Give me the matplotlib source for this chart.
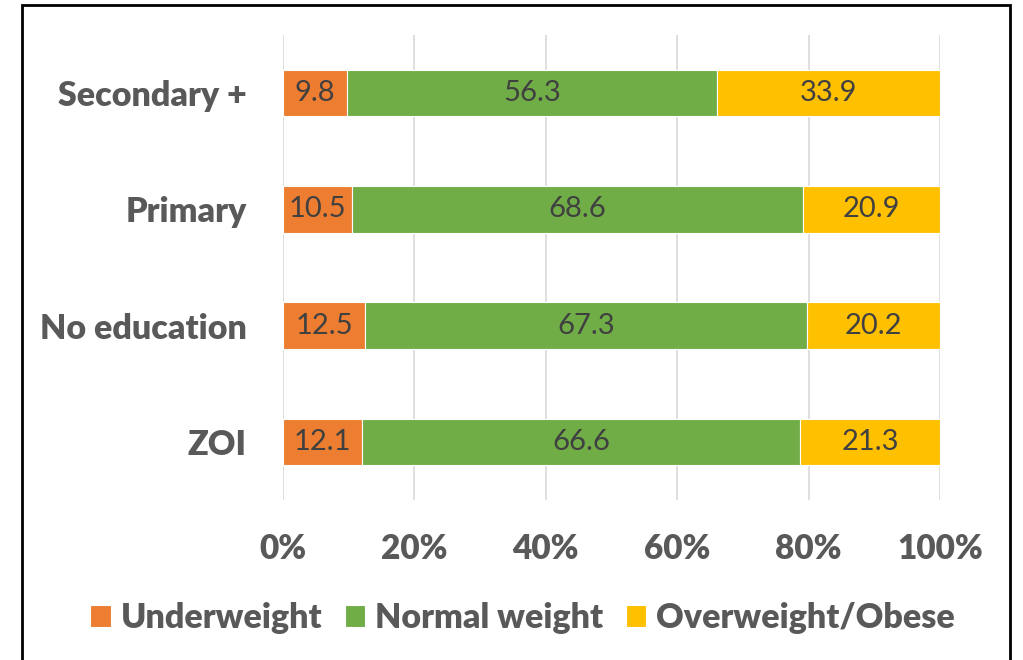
import numpy as np
import matplotlib.pyplot as plt
from matplotlib.patches import Rectangle
from matplotlib.ticker import PercentFormatter

# education groups, bottom to top
groups = ['ZOI', 'No education', 'Primary', 'Secondary +']
underweight = [12.1, 12.5, 10.5, 9.8]
normal = [66.6, 67.3, 68.6, 56.3]
overweight = [21.3, 20.2, 20.9, 33.9]
series_names = ['Underweight', 'Normal weight', 'Overweight/Obese']
colors = ['#ED7D31', '#70AD47', '#FFC000']

plt.rcParams['font.family'] = ['Lato', 'DejaVu Sans']

fig = plt.figure(figsize=(10.23, 6.6), dpi=100)
ax = fig.add_axes([0.2766, 0.2424, 0.9189 - 0.2766, 0.947 - 0.2424])

y = np.arange(len(groups))
left = np.zeros(len(groups))
for vals, name, col in zip([underweight, normal, overweight], series_names, colors):
    vals = np.array(vals)
    bars = ax.barh(y, vals, left=left, height=0.4, color=col, edgecolor='white',
                   linewidth=0.8, label=name, zorder=3)
    for b, v in zip(bars, vals):
        ax.text(b.get_x() + b.get_width() / 2, b.get_y() + b.get_height() / 2,
                f'{v:.1f}', ha='center', va='center', fontsize=21, color='#404040', zorder=4)
    left += vals

ax.set_xlim(0, 100)
ax.set_ylim(-0.5, 3.5)
ax.set_xticks(np.arange(0, 101, 20))
ax.xaxis.set_major_formatter(PercentFormatter(decimals=0))
ax.set_yticks(y)
ax.set_yticklabels(groups)
ax.grid(axis='x', color='#D9D9D9', linewidth=1.2, zorder=0)
for s in ax.spines.values():
    s.set_visible(False)
ax.tick_params(length=0)
ax.tick_params(axis='x', pad=24, labelsize=24, labelcolor='#595959')
ax.tick_params(axis='y', pad=26, labelsize=24.5, labelcolor='#595959')
for lab in ax.get_xticklabels() + ax.get_yticklabels():
    lab.set_fontweight('heavy')

leg = fig.legend(loc='center', bbox_to_anchor=(0.511, 0.064), ncol=3, frameon=False,
                 fontsize=24.5, handlelength=0.6, handleheight=0.6, handletextpad=0.3,
                 columnspacing=0.65, labelcolor='#595959')
for t in leg.get_texts():
    t.set_fontweight('heavy')

# outer frame around the whole chart
fig.patches.append(Rectangle((22 / 1023, -0.02), (1010 - 22) / 1023, 1 - 5 / 660 + 0.02,
                             transform=fig.transFigure, fill=False, edgecolor='black',
                             linewidth=2))

fig.savefig('out.png', dpi=100)
